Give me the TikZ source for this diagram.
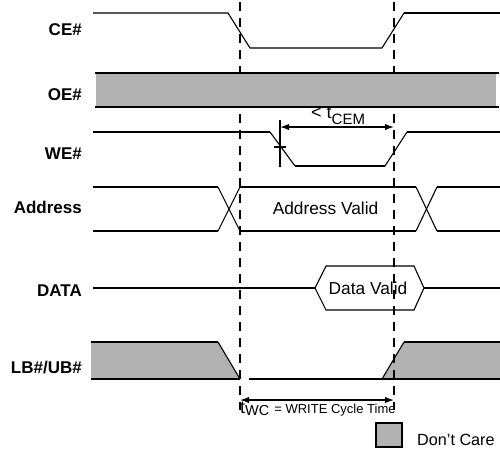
\documentclass[tikz,border=0pt]{standalone}
\usepackage{fontspec}
\setmainfont{Liberation Sans}
\usetikzlibrary{arrows.meta}
\begin{document}
\begin{tikzpicture}[x=1pt,y=-1pt,
  thinln/.style={line width=1.1pt},
  thickln/.style={line width=1.8pt},
  dc/.style={fill=black!30},
  sig/.style={font=\fontsize{17}{19}\selectfont\bfseries, anchor=base east, inner sep=0pt},
  txt/.style={font=\fontsize{17.3}{19}\selectfont, inner sep=0pt},
  guide/.style={line width=1.8pt, dash pattern=on 9pt off 7pt},
  dimarrow/.style={line width=1.4pt, {Latex[length=9pt,width=6.5pt]}-{Latex[length=9pt,width=6.5pt]}}
]
\useasboundingbox (0,0) rectangle (500,459);

% signal labels
\node[sig] (ce) at (82,35) {CE\#};
\node[sig] (oe) at (82,100) {OE\#};
\node[sig] (we) at (82,159) {WE\#};
\node[sig] (addr) at (82,213) {Address};
\node[sig] (data) at (82,296) {DATA};
\node[sig] (lbub) at (82,373) {LB\#/UB\#};

% LB#/UB# don't-care regions
\fill[dc] (91,342) -- (218,342) -- (240,379) -- (91,379) -- cycle;
\fill[dc] (382,379) -- (404,342) -- (500,342) -- (500,379) -- cycle;

% guide lines
\draw[guide] (240,2) -- (240,410);
\draw[guide] (394,2) -- (394,410);

% CE#
\draw[thinln] (93,13) -- (228,13) -- (250,48) -- (382,48) -- (404,13);
\draw[thickln] (404,13) -- (500,13);

% OE#
\fill[dc] (96,73) rectangle (496,107);
\draw[thickln] (95,73) -- (499,73);
\draw[thickln] (95,107) -- (499,107);

% WE#
\draw[thickln] (93,132) -- (270,132);
\draw[thinln] (270,132) -- (295,166);
\draw[thickln] (295,166) -- (385,166);
\draw[thinln] (385,166) -- (407,132);
\draw[thickln] (407,132) -- (500,132);
\draw[thinln] (280,120) -- (280,167);
\draw[thinln] (274,147) -- (286,147);
\coordinate (cemL) at (280,127);
\coordinate (cemR) at (394,127);
\draw[dimarrow] (cemL) -- (cemR);
\node[anchor=base west, inner sep=0pt] (cem) at (311,118) {\fontsize{18}{19}\selectfont < t\raisebox{-6pt}{\fontsize{15}{15}\selectfont CEM}};

% Address
\draw[thickln] (93,187) -- (218,187);
\draw[thickln] (93,231) -- (218,231);
\draw[thinln] (218,187) -- (240,231);
\draw[thinln] (218,231) -- (240,187);
\draw[thinln] (240,187) -- (416,187);
\draw[thinln] (240,231) -- (416,231);
\draw[thinln] (416,187) -- (437,231);
\draw[thinln] (416,231) -- (437,187);
\draw[thickln] (437,187) -- (500,187);
\draw[thickln] (437,231) -- (500,231);
\node[txt, anchor=base] (av) at (325.5,214) {Address Valid};

% DATA
\draw[thickln] (93,288) -- (315,288);
\draw[thickln] (424,288) -- (500,288);
\draw[thinln] (315,288) -- (326,266) -- (414,266) -- (424,288) -- (414,310) -- (326,310) -- cycle;
\node[txt, anchor=base] (dv) at (368,294) {Data Valid};

% LB#/UB# outlines
\draw[thickln] (91,342) -- (218,342);
\draw[thinln] (218,342) -- (240,379);
\draw[thinln] (91,379) -- (240,379);
\draw[thickln] (249,379) -- (500,379);
\draw[thinln] (382,379) -- (404,342);
\draw[thickln] (404,342) -- (500,342);

% tWC
\coordinate (wcL) at (240,400);
\coordinate (wcR) at (394,400);
\draw[dimarrow] (wcL) -- (wcR);
\node[anchor=base west, inner sep=0pt] (wc) at (240,413) {\fontsize{18}{19}\selectfont t\raisebox{-2pt}{\fontsize{14.5}{15}\selectfont WC} \fontsize{13}{13}\selectfont = WRITE Cycle Time};

% legend
\draw[thickln, dc] (376,423) rectangle (402,447);
\node[font=\fontsize{16.2}{18}\selectfont, inner sep=0pt, anchor=base west] (leg) at (417,445) {Don’t Care};
\end{tikzpicture}
\end{document}
